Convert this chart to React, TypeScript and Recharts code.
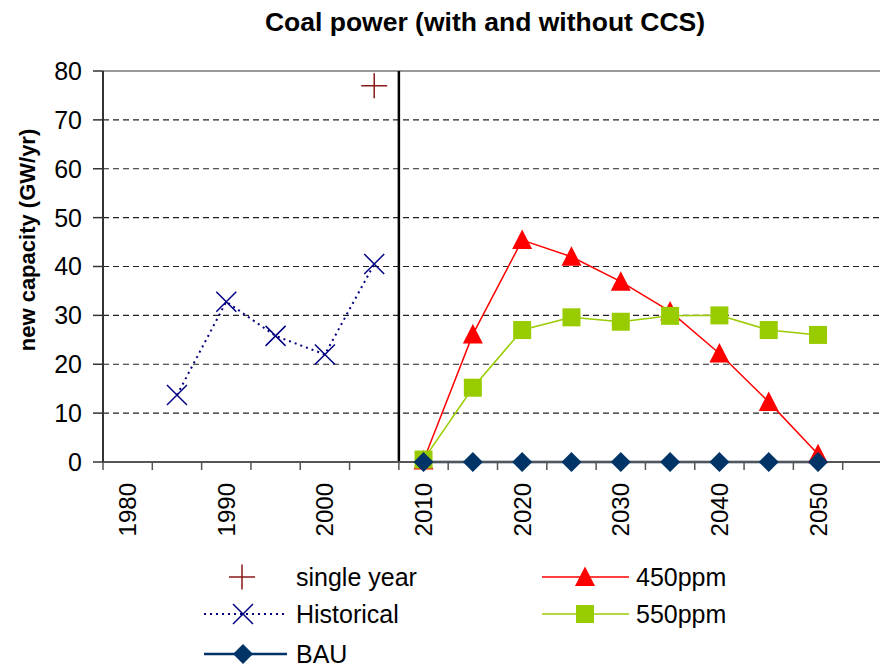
import { LineChart, Line, XAxis, YAxis, CartesianGrid, ReferenceLine, Label } from 'recharts';

const FONT = '"Liberation Sans", Arial, sans-serif';

const years = [1980, 1985, 1990, 1995, 2000, 2005, 2010, 2015, 2020, 2025, 2030, 2035, 2040, 2045, 2050, 2055];
const xLabels = [1980, 1990, 2000, 2010, 2020, 2030, 2040, 2050];
const yTicks = [0, 10, 20, 30, 40, 50, 60, 70, 80];

const singleYears = [2005];
const singleYear = [77];

const histYears = [1985, 1990, 1995, 2000, 2005];
const historical = [13.7, 32.8, 25.8, 22.0, 40.5];

const scenarioYears = [2010, 2015, 2020, 2025, 2030, 2035, 2040, 2045, 2050];
const ppm450 = [0.3, 26.1, 45.4, 42.0, 36.9, 30.8, 22.2, 12.3, 1.6];
const ppm550 = [0.5, 15.2, 27.0, 29.6, 28.7, 29.9, 30.0, 27.0, 26.0];
const bau = [0, 0, 0, 0, 0, 0, 0, 0, 0];

const pick = (xs: number[], vals: number[], year: number) => {
  const i = xs.indexOf(year);
  return i >= 0 ? vals[i] : null;
};

const data = years.map((year) => ({
  year,
  single: pick(singleYears, singleYear, year),
  historical: pick(histYears, historical, year),
  p450: pick(scenarioYears, ppm450, year),
  p550: pick(scenarioYears, ppm550, year),
  bau: pick(scenarioYears, bau, year),
}));

// tick marks sit between the categories, labels on the decade centres
const boundaries = [...years.map((y) => y - 2.5), years[years.length - 1] + 2.5];
const xTicks = [...boundaries, ...xLabels].sort((a, b) => a - b);

const RED = '#FF0000';
const GREEN = '#99CC00';
const NAVY = '#000080';
const BAU = '#003366';
const DARKRED = '#8B1A1A';

type M = { cx: number; cy: number };

const Plus = ({ cx, cy }: M) => (
  <path d={`M${cx - 13},${cy}H${cx + 13}M${cx},${cy - 12.5}V${cy + 12.5}`} stroke={DARKRED} strokeWidth={1.5} fill="none" />
);
const Cross = ({ cx, cy }: M) => (
  <path d={`M${cx - 10},${cy - 10}L${cx + 10},${cy + 10}M${cx + 10},${cy - 10}L${cx - 10},${cy + 10}`} stroke={NAVY} strokeWidth={1.5} fill="none" />
);
const Triangle = ({ cx, cy }: M) => (
  <path d={`M${cx},${cy - 10.5}L${cx + 10},${cy + 9}L${cx - 10},${cy + 9}Z`} fill={RED} />
);
const Square = ({ cx, cy }: M) => <rect x={cx - 9} y={cy - 9} width={18} height={18} fill={GREEN} />;
const Diamond = ({ cx, cy }: M) => (
  <path d={`M${cx},${cy - 10}L${cx + 10},${cy}L${cx},${cy + 10}L${cx - 10},${cy}Z`} fill={BAU} />
);

const dotWith = (Shape: (p: M) => any) => (p: any) =>
  typeof p.cy !== 'number' || p.value == null ? (
    <g key={p.index} />
  ) : (
    <Shape key={p.index} cx={p.cx} cy={p.cy} />
  );

function XTick({ x, y, payload }: any) {
  const v = payload.value;
  if (xLabels.includes(v)) {
    const ty = y + 21;
    return (
      <text x={x} y={ty} transform={`rotate(-90, ${x}, ${ty})`} textAnchor="end" dominantBaseline="central" fontSize={24} fontFamily={FONT} fill="#000">
        {v}
      </text>
    );
  }
  return <line x1={x} x2={x} y1={y} y2={y + 8} stroke="#555" strokeWidth={1.5} />;
}

const yLabel = () => (
  <text x={27} y={240} transform="rotate(-90, 27, 240)" textAnchor="middle" dominantBaseline="central" fontSize={22} fontWeight="bold" fontFamily={FONT} fill="#000">
    new capacity (GW/yr)
  </text>
);

function LegendBox() {
  const t = { fontSize: 25, fontFamily: FONT, fill: '#000', dominantBaseline: 'central' as const };
  return (
    <svg width={880} height={112} style={{ position: 'absolute', left: 0, top: 555 }}>
      <Plus cx={242} cy={22} />
      <text x={296} y={22} {...t}>single year</text>

      <line x1={204} x2={285} y1={59} y2={59} stroke={NAVY} strokeWidth={2} strokeDasharray="2 4" />
      <Cross cx={243} cy={59} />
      <text x={296} y={59} {...t}>Historical</text>

      <line x1={204} x2={287} y1={99} y2={99} stroke={BAU} strokeWidth={2.5} />
      <Diamond cx={243} cy={99} />
      <text x={296} y={99} {...t}>BAU</text>

      <line x1={542} x2={629} y1={22} y2={22} stroke={RED} strokeWidth={1.5} />
      <Triangle cx={585} cy={22} />
      <text x={636} y={22} {...t}>450ppm</text>

      <line x1={542} x2={629} y1={59} y2={59} stroke={GREEN} strokeWidth={1.5} />
      <Square cx={585} cy={59} />
      <text x={636} y={59} {...t}>550ppm</text>
    </svg>
  );
}

export default function App() {
  return (
    <div style={{ position: 'absolute', left: 0, top: 0, width: 880, height: 667, overflow: 'hidden', background: '#fff', fontFamily: FONT }}>
      <div style={{ position: 'absolute', left: 0, top: 7, width: 970, textAlign: 'center', fontSize: 26.5, fontWeight: 'bold', lineHeight: '30px' }}>
        Coal power (with and without CCS)
      </div>
      <LineChart width={900} height={667} data={data} margin={{ top: 71, right: 8, left: 0, bottom: 145 }}>
        <CartesianGrid vertical={false} stroke="#222" strokeWidth={1.2} strokeDasharray="6 4" />
        <ReferenceLine y={80} stroke="#999" strokeWidth={2} />
        <XAxis
          dataKey="year"
          type="number"
          domain={[1977.5, 2057.5]}
          ticks={xTicks}
          interval={0}
          height={60}
          tickSize={0}
          tickMargin={0}
          tickLine={false}
          tick={<XTick />}
          axisLine={{ stroke: '#555', strokeWidth: 2 }}
        />
        <YAxis
          domain={[0, 80]}
          ticks={yTicks}
          interval={0}
          width={103}
          tickSize={10}
          tickMargin={11}
          tick={{ fontSize: 25, fill: '#000', fontFamily: FONT }}
          tickLine={{ stroke: '#333', strokeWidth: 1.5 }}
          axisLine={{ stroke: '#333', strokeWidth: 2 }}
        >
          <Label content={yLabel} />
        </YAxis>
        <ReferenceLine x={2007.5} stroke="#000" strokeWidth={2.5} />
        <Line dataKey="single" stroke="none" dot={dotWith(Plus)} activeDot={false} isAnimationActive={false} />
        <Line dataKey="historical" stroke={NAVY} strokeWidth={2} strokeDasharray="2 4" dot={dotWith(Cross)} activeDot={false} isAnimationActive={false} />
        <Line dataKey="p450" stroke={RED} strokeWidth={1.5} dot={dotWith(Triangle)} activeDot={false} isAnimationActive={false} />
        <Line dataKey="p550" stroke={GREEN} strokeWidth={1.5} dot={dotWith(Square)} activeDot={false} isAnimationActive={false} />
        <Line dataKey="bau" stroke={BAU} strokeWidth={2.5} dot={dotWith(Diamond)} activeDot={false} isAnimationActive={false} />
      </LineChart>
      <LegendBox />
    </div>
  );
}
